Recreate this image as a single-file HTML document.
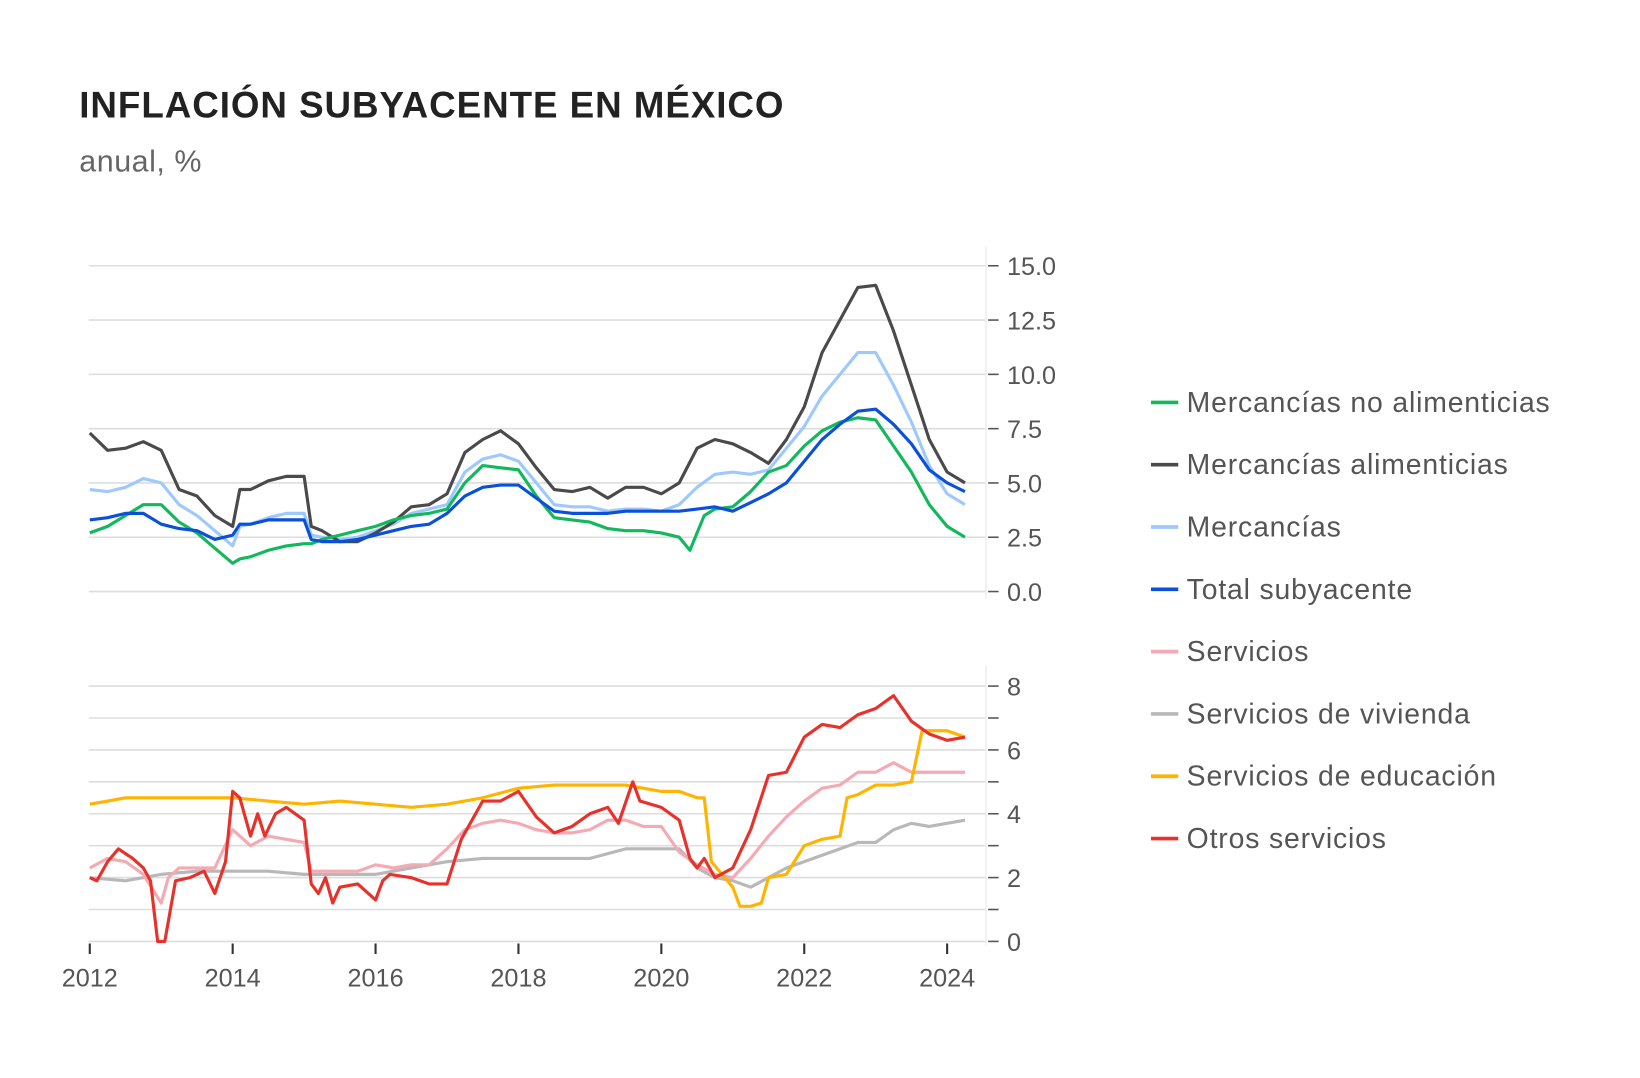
<!DOCTYPE html>
<html><head><meta charset="utf-8"><style>
html,body{margin:0;padding:0;background:#fff}
svg{display:block;font-family:"Liberation Sans",sans-serif}
</style></head><body>
<svg id="c" width="1640" height="1078" viewBox="0 0 1560 1026">
<text x="75" y="112" font-size="35" font-weight="bold" fill="#222" letter-spacing="0.9">INFLACIÓN SUBYACENTE EN MÉXICO</text>
<text x="75" y="163" font-size="29" fill="#666" letter-spacing="0.5">anual, %</text>
<g id="topPanel"></g>
<g id="botPanel"></g>
<g id="xax"></g>
<g id="leg"></g>
</svg>
<script>
const xYears=[2012,2014,2016,2018,2020,2022,2024];
const topTicks=["0.0","2.5","5.0","7.5","10.0","12.5","15.0"];
const topTickVals=[0,2.5,5,7.5,10,12.5,15];
const botTickVals=[0,2,4,6,8];
const alimD=[2012,2012.25,2012.5,2012.75,2013,2013.25,2013.5,2013.75,2014,2014.1,2014.25,2014.5,2014.75,2015,2015.1,2015.25,2015.5,2015.75,2016,2016.25,2016.5,2016.75,2017,2017.25,2017.5,2017.75,2018,2018.25,2018.5,2018.75,2019,2019.25,2019.5,2019.75,2020,2020.25,2020.5,2020.75,2021,2021.25,2021.5,2021.75,2022,2022.25,2022.5,2022.75,2023,2023.25,2023.5,2023.75,2024,2024.25];
const alimV=[7.3,6.5,6.6,6.9,6.5,4.7,4.4,3.5,3.0,4.7,4.7,5.1,5.3,5.3,3.0,2.8,2.3,2.3,2.7,3.2,3.9,4.0,4.5,6.4,7.0,7.4,6.8,5.7,4.7,4.6,4.8,4.3,4.8,4.8,4.5,5.0,6.6,7.0,6.8,6.4,5.9,7.0,8.5,11.0,12.5,14.0,14.1,12.0,9.5,7.0,5.5,5.0];
const mercV=[4.7,4.6,4.8,5.2,5.0,4.0,3.5,2.8,2.1,3.0,3.1,3.4,3.6,3.6,2.6,2.5,2.4,2.5,2.8,3.1,3.6,3.8,4.0,5.5,6.1,6.3,6.0,5.0,4.0,3.9,3.9,3.7,3.8,3.8,3.7,4.0,4.8,5.4,5.5,5.4,5.6,6.6,7.6,9.0,10.0,11.0,11.0,9.5,7.8,5.8,4.5,4.0];
const totV=[3.3,3.4,3.6,3.6,3.1,2.9,2.8,2.4,2.6,3.1,3.1,3.3,3.3,3.3,2.4,2.3,2.3,2.4,2.6,2.8,3.0,3.1,3.6,4.4,4.8,4.9,4.9,4.3,3.7,3.6,3.6,3.6,3.7,3.7,3.7,3.7,3.8,3.9,3.7,4.1,4.5,5.0,6.0,7.0,7.7,8.3,8.4,7.7,6.8,5.6,5.0,4.6];
const noAlimD=[2012,2012.25,2012.5,2012.75,2013,2013.25,2013.5,2013.75,2014,2014.1,2014.25,2014.5,2014.75,2015,2015.1,2015.25,2015.5,2015.75,2016,2016.25,2016.5,2016.75,2017,2017.25,2017.5,2017.75,2018,2018.25,2018.5,2018.75,2019,2019.25,2019.5,2019.75,2020,2020.25,2020.4,2020.6,2020.75,2021,2021.25,2021.5,2021.75,2022,2022.25,2022.5,2022.75,2023,2023.25,2023.5,2023.75,2024,2024.25];
const noAlimV=[2.7,3.0,3.5,4.0,4.0,3.2,2.7,2.0,1.3,1.5,1.6,1.9,2.1,2.2,2.2,2.4,2.6,2.8,3.0,3.3,3.5,3.6,3.8,5.0,5.8,5.7,5.6,4.4,3.4,3.3,3.2,2.9,2.8,2.8,2.7,2.5,1.9,3.5,3.8,3.9,4.6,5.5,5.8,6.7,7.4,7.8,8.0,7.9,6.7,5.5,4.0,3.0,2.5];
const vivD=[2012,2012.5,2013,2013.5,2014,2014.5,2015,2015.5,2016,2016.5,2017,2017.5,2018,2018.5,2019,2019.5,2020,2020.25,2020.5,2020.75,2021,2021.25,2021.5,2021.75,2022,2022.25,2022.5,2022.75,2023,2023.25,2023.5,2023.75,2024,2024.25];
const vivV=[2.0,1.9,2.1,2.2,2.2,2.2,2.1,2.1,2.1,2.3,2.5,2.6,2.6,2.6,2.6,2.9,2.9,2.9,2.3,2.0,1.9,1.7,2.0,2.3,2.5,2.7,2.9,3.1,3.1,3.5,3.7,3.6,3.7,3.8];
const eduD=[2012,2012.25,2012.5,2012.75,2013,2013.5,2014,2014.5,2015,2015.5,2016,2016.5,2017,2017.5,2018,2018.5,2019,2019.5,2020,2020.25,2020.5,2020.6,2020.7,2021,2021.1,2021.25,2021.4,2021.5,2021.75,2022,2022.25,2022.5,2022.6,2022.75,2023,2023.25,2023.5,2023.65,2023.75,2024,2024.25];
const eduV=[4.3,4.4,4.5,4.5,4.5,4.5,4.5,4.4,4.3,4.4,4.3,4.2,4.3,4.5,4.8,4.9,4.9,4.9,4.7,4.7,4.5,4.5,2.5,1.7,1.1,1.1,1.2,2.0,2.1,3.0,3.2,3.3,4.5,4.6,4.9,4.9,5.0,6.6,6.6,6.6,6.4];
const servD=[2012,2012.25,2012.5,2012.75,2013,2013.1,2013.25,2013.5,2013.75,2014,2014.25,2014.5,2014.75,2015,2015.1,2015.25,2015.5,2015.75,2016,2016.25,2016.5,2016.75,2017,2017.25,2017.5,2017.75,2018,2018.25,2018.5,2018.75,2019,2019.25,2019.5,2019.75,2020,2020.25,2020.5,2020.75,2021,2021.25,2021.5,2021.75,2022,2022.25,2022.5,2022.75,2023,2023.25,2023.5,2023.75,2024,2024.25];
const servV=[2.3,2.6,2.5,2.1,1.2,2.0,2.3,2.3,2.3,3.5,3.0,3.3,3.2,3.1,2.2,2.2,2.2,2.2,2.4,2.3,2.4,2.4,2.9,3.5,3.7,3.8,3.7,3.5,3.4,3.4,3.5,3.8,3.8,3.6,3.6,2.8,2.4,2.1,2.0,2.6,3.3,3.9,4.4,4.8,4.9,5.3,5.3,5.6,5.3,5.3,5.3,5.3];
const otrD=[2012,2012.1,2012.25,2012.4,2012.6,2012.75,2012.85,2012.95,2013.05,2013.2,2013.4,2013.6,2013.75,2013.9,2014,2014.1,2014.25,2014.35,2014.45,2014.6,2014.75,2015,2015.1,2015.2,2015.3,2015.4,2015.5,2015.75,2016,2016.1,2016.2,2016.5,2016.75,2017,2017.2,2017.4,2017.5,2017.75,2018,2018.25,2018.5,2018.75,2019,2019.25,2019.4,2019.6,2019.7,2020,2020.25,2020.4,2020.5,2020.6,2020.75,2021,2021.25,2021.5,2021.75,2022,2022.25,2022.5,2022.75,2023,2023.25,2023.5,2023.75,2024,2024.25];
const otrV=[2.0,1.9,2.5,2.9,2.6,2.3,1.9,0,0,1.9,2.0,2.2,1.5,2.5,4.7,4.5,3.3,4.0,3.3,4.0,4.2,3.8,1.8,1.5,2.0,1.2,1.7,1.8,1.3,1.9,2.1,2.0,1.8,1.8,3.2,4.0,4.4,4.4,4.7,3.9,3.4,3.6,4.0,4.2,3.7,5.0,4.4,4.2,3.8,2.6,2.3,2.6,2.0,2.3,3.5,5.2,5.3,6.4,6.8,6.7,7.1,7.3,7.7,6.9,6.5,6.3,6.4];

const NS="http://www.w3.org/2000/svg";
function mk(t,a,p){const e=document.createElementNS(NS,t);for(const k in a)e.setAttribute(k,a[k]);p.appendChild(e);return e;}
const X=y=>85+(y-2012)*68.0;
const YT=v=>563-v*20.67;
const YB=v=>896-v*30.375;
const topG=document.getElementById('topPanel'),botG=document.getElementById('botPanel'),xax=document.getElementById('xax'),leg=document.getElementById('leg');
topTickVals.forEach((v,i)=>{
  const l=mk('line',{x1:84,x2:938,y1:YT(v),y2:YT(v),stroke:'#ddd','stroke-width':1.5},topG);
  
  
  mk('line',{x1:940,x2:950,y1:YT(v),y2:YT(v),stroke:'#555','stroke-width':1.5},topG);
  const t=mk('text',{x:958,y:YT(v)+9,'font-size':24,fill:'#555'},topG);t.textContent=topTicks[i];
  
  
});
mk('line',{x1:938,x2:938,y1:235,y2:570,stroke:'#eee','stroke-width':1.5},topG);
for(let v=0;v<=8;v++){
  const l=mk('line',{x1:84,x2:938,y1:YB(v),y2:YB(v),stroke:'#ddd','stroke-width':1.5},botG);
  
  
  mk('line',{x1:940,x2:950,y1:YB(v),y2:YB(v),stroke:'#555','stroke-width':1.5},botG);
}
botTickVals.forEach(v=>{
  const t=mk('text',{x:958,y:YB(v)+9,'font-size':24,fill:'#555'},botG);t.textContent=v;
  
  
});
mk('line',{x1:938,x2:938,y1:633,y2:900,stroke:'#eee','stroke-width':1.5},botG);
xYears.forEach(y=>{
  mk('line',{x1:X(y),x2:X(y),y1:898,y2:908,stroke:'#333','stroke-width':2},xax);
  const t=mk('text',{x:X(y),y:939,'font-size':24,fill:'#555','text-anchor':'middle'},xax);t.textContent=y;
  
  
});
function line(g,d,v,Y,col,name){
  const p=mk('path',{d:d.map((x,i)=>(i?'L':'M')+X(x).toFixed(1)+','+Y(v[i]).toFixed(1)).join(''),fill:'none',stroke:col,'stroke-width':3,'stroke-linejoin':'round'},g);
  
  
}
line(topG,alimD,mercV,YT,'#9ec9ff','line-mercancias');
line(topG,alimD,alimV,YT,'#4a4a4a','line-mercancias-alimenticias');
line(topG,noAlimD,noAlimV,YT,'#12b85c','line-mercancias-no-alimenticias');
line(topG,alimD,totV,YT,'#0a50d8','line-total-subyacente');
line(botG,vivD,vivV,YB,'#b8b8b8','line-servicios-vivienda');
line(botG,servD,servV,YB,'#f5a9b3','line-servicios');
line(botG,eduD,eduV,YB,'#ffb400','line-servicios-educacion');
line(botG,otrD,otrV,YB,'#e8312b','line-otros-servicios');
const legNames=["Mercancías no alimenticias","Mercancías alimenticias","Mercancías","Total subyacente","Servicios","Servicios de vivienda","Servicios de educación","Otros servicios"];
const legCols=['#12b85c','#4a4a4a','#9ec9ff','#0a50d8','#f5a9b3','#b8b8b8','#ffb400','#e8312b'];
legNames.forEach((n,i)=>{
  const y=383+i*59.3;
  const g=mk('g',{},leg);
  
  
  mk('line',{x1:1095,x2:1121,y1:y,y2:y,stroke:legCols[i],'stroke-width':3.5},g);
  const t=mk('text',{x:1129,y:y+9,'font-size':27,fill:'#555','letter-spacing':0.8},g);t.textContent=n;
});
</script>
</body></html>
